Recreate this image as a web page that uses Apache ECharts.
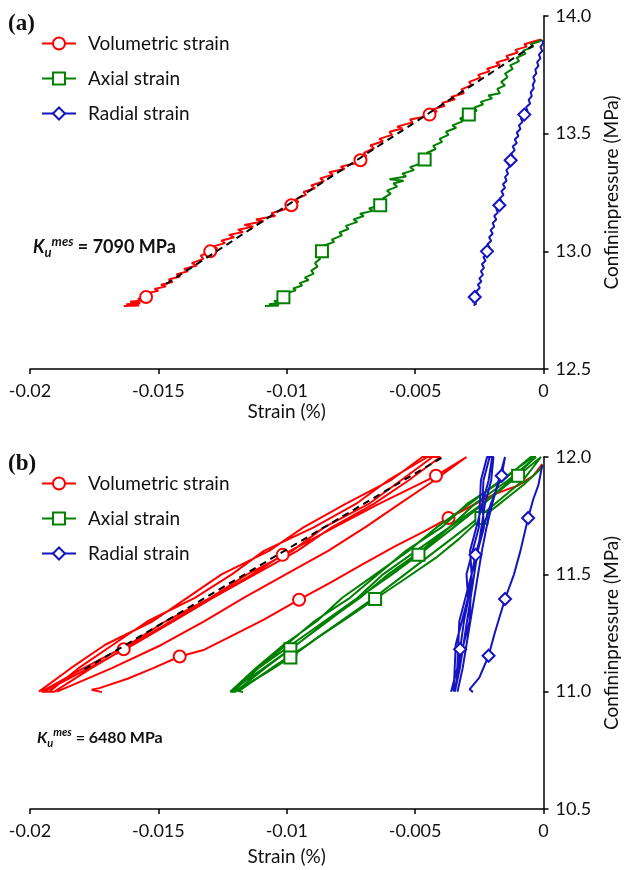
<!DOCTYPE html>
<html>
<head>
<meta charset="utf-8">
<script src="https://cdn.jsdelivr.net/npm/echarts@6/dist/echarts.min.js"></script>
<style>
  html, body { margin: 0; padding: 0; background: #fff; }
  #chart { width: 629px; height: 870px; }
</style>
</head>
<body>
<div id="chart"></div>
<script>
// ---------- Panel (a): single unloading run, strain (%) vs confining pressure (MPa) ----------
const volA = [
  [-0.01635,12.768],[-0.01575,12.770],[-0.01625,12.775],[-0.01570,12.779],[-0.01610,12.786],
  [-0.01560,12.791],[-0.01580,12.798],[-0.01548,12.806],[-0.01525,12.815],[-0.01545,12.822],
  [-0.01500,12.832],[-0.01515,12.840],[-0.01470,12.851],[-0.01490,12.858],[-0.01445,12.870],
  [-0.01460,12.880],[-0.01415,12.893],[-0.01430,12.902],[-0.01385,12.915],[-0.01400,12.925],
  [-0.01350,12.940],[-0.01370,12.950],[-0.01325,12.968],[-0.01335,12.982],[-0.01298,13.000],
  [-0.01270,13.012],[-0.01290,13.020],[-0.01240,13.035],[-0.01255,13.045],[-0.01205,13.060],
  [-0.01225,13.070],[-0.01170,13.082],[-0.01190,13.092],[-0.01130,13.105],[-0.01165,13.112],
  [-0.01090,13.128],[-0.01120,13.135],[-0.01045,13.150],[-0.01060,13.162],[-0.01010,13.178],
  [-0.00982,13.196],[-0.00955,13.210],[-0.00965,13.222],[-0.00925,13.240],[-0.00935,13.252],
  [-0.00890,13.268],[-0.00905,13.280],[-0.00855,13.298],[-0.00870,13.310],[-0.00820,13.326],
  [-0.00835,13.336],[-0.00775,13.350],[-0.00790,13.360],[-0.00740,13.372],[-0.00713,13.387],
  [-0.00690,13.405],[-0.00700,13.418],[-0.00660,13.438],[-0.00675,13.450],[-0.00625,13.468],
  [-0.00640,13.478],[-0.00590,13.495],[-0.00600,13.508],[-0.00550,13.522],[-0.00570,13.530],
  [-0.00510,13.548],[-0.00520,13.560],[-0.00475,13.570],[-0.00444,13.581],[-0.00415,13.595],
  [-0.00430,13.604],[-0.00385,13.618],[-0.00395,13.630],[-0.00345,13.646],[-0.00360,13.656],
  [-0.00310,13.672],[-0.00320,13.688],[-0.00280,13.706],[-0.00290,13.720],[-0.00245,13.738],
  [-0.00255,13.750],[-0.00210,13.765],[-0.00220,13.776],[-0.00170,13.792],[-0.00185,13.802],
  [-0.00135,13.818],[-0.00145,13.830],[-0.00100,13.845],[-0.00110,13.856],[-0.00065,13.870],
  [-0.00075,13.880],[-0.00035,13.893],[-0.00010,13.900]
];
const axialA = [
  [-0.01085,12.768],[-0.01030,12.770],[-0.01070,12.775],[-0.01020,12.780],[-0.01050,12.788],
  [-0.01005,12.795],[-0.01013,12.805],[-0.00990,12.815],[-0.01000,12.822],[-0.00965,12.834],
  [-0.00975,12.842],[-0.00940,12.855],[-0.00950,12.865],[-0.00915,12.878],[-0.00930,12.888],
  [-0.00895,12.905],[-0.00905,12.918],[-0.00880,12.935],[-0.00890,12.950],[-0.00870,12.968],
  [-0.00880,12.982],[-0.00863,13.000],[-0.00845,13.015],[-0.00855,13.025],[-0.00815,13.040],
  [-0.00825,13.050],[-0.00785,13.068],[-0.00795,13.080],[-0.00760,13.095],[-0.00770,13.108],
  [-0.00725,13.125],[-0.00740,13.135],[-0.00700,13.150],[-0.00715,13.160],[-0.00665,13.172],
  [-0.00680,13.182],[-0.00636,13.196],[-0.00615,13.210],[-0.00625,13.225],[-0.00595,13.245],
  [-0.00610,13.258],[-0.00570,13.275],[-0.00585,13.288],[-0.00545,13.300],[-0.00600,13.306],
  [-0.00535,13.318],[-0.00550,13.330],[-0.00505,13.345],[-0.00520,13.358],[-0.00480,13.372],
  [-0.00463,13.390],[-0.00445,13.405],[-0.00455,13.418],[-0.00420,13.435],[-0.00430,13.448],
  [-0.00395,13.465],[-0.00405,13.478],[-0.00370,13.495],[-0.00380,13.508],[-0.00340,13.525],
  [-0.00355,13.535],[-0.00315,13.552],[-0.00325,13.565],[-0.00291,13.581],[-0.00260,13.598],
  [-0.00270,13.610],[-0.00235,13.625],[-0.00245,13.635],[-0.00200,13.650],[-0.00215,13.662],
  [-0.00170,13.672],[-0.00180,13.690],[-0.00150,13.705],[-0.00165,13.720],[-0.00140,13.740],
  [-0.00150,13.755],[-0.00120,13.775],[-0.00130,13.790],[-0.00095,13.808],[-0.00105,13.822],
  [-0.00070,13.840],[-0.00080,13.852],[-0.00040,13.870],[-0.00050,13.880],[-0.00015,13.893],
  [-0.00005,13.900]
];
const radialA = [
  [-0.00272,12.770],[-0.00262,12.778],[-0.00275,12.786],[-0.00262,12.795],[-0.00268,12.806],
  [-0.00255,12.818],[-0.00262,12.830],[-0.00248,12.845],[-0.00256,12.858],[-0.00242,12.872],
  [-0.00250,12.885],[-0.00236,12.900],[-0.00244,12.915],[-0.00232,12.930],[-0.00240,12.945],
  [-0.00226,12.960],[-0.00234,12.975],[-0.00222,12.988],[-0.00220,13.000],[-0.00210,13.015],
  [-0.00218,13.030],[-0.00204,13.045],[-0.00212,13.060],[-0.00198,13.075],[-0.00206,13.090],
  [-0.00192,13.105],[-0.00198,13.120],[-0.00184,13.135],[-0.00192,13.150],[-0.00178,13.165],
  [-0.00184,13.180],[-0.00172,13.196],[-0.00162,13.210],[-0.00170,13.225],[-0.00156,13.240],
  [-0.00164,13.255],[-0.00150,13.270],[-0.00158,13.285],[-0.00144,13.300],[-0.00150,13.315],
  [-0.00138,13.330],[-0.00145,13.345],[-0.00132,13.360],[-0.00138,13.374],[-0.00128,13.387],
  [-0.00118,13.400],[-0.00126,13.415],[-0.00112,13.430],[-0.00120,13.445],[-0.00104,13.460],
  [-0.00112,13.475],[-0.00098,13.490],[-0.00104,13.505],[-0.00090,13.520],[-0.00096,13.535],
  [-0.00082,13.550],[-0.00088,13.565],[-0.00075,13.581],[-0.00062,13.596],[-0.00068,13.612],
  [-0.00052,13.628],[-0.00058,13.644],[-0.00046,13.660],[-0.00050,13.676],[-0.00038,13.692],
  [-0.00042,13.708],[-0.00034,13.724],[-0.00040,13.740],[-0.00028,13.756],[-0.00032,13.772],
  [-0.00020,13.788],[-0.00025,13.804],[-0.00012,13.820],[-0.00018,13.836],[-0.00005,13.852],
  [-0.00012,13.868],[-0.00002,13.884],[-0.00004,13.898]
];
// samples that carry a marker symbol
const volMarksA    = [[-0.01548,12.806],[-0.01298,13.000],[-0.00982,13.196],[-0.00713,13.387],[-0.00444,13.581]];
const axialMarksA  = [[-0.01013,12.805],[-0.00863,13.000],[-0.00636,13.196],[-0.00463,13.390],[-0.00291,13.581]];
const radialMarksA = [[-0.00268,12.806],[-0.00220,13.000],[-0.00172,13.196],[-0.00128,13.387],[-0.00075,13.581]];
// measured undrained bulk modulus and the strain span of its fitted line
const kA = 7090;               // MPa
const fitSpanA = [-0.0147, -0.0004];
const fitMidA = [-0.00755, 13.368];

// ---------- Panel (b): cyclic loading between 11 and 12 MPa ----------
const volCyclesB = [
  [-0.01965,11.0],[-0.01841,11.1],[-0.01707,11.2],[-0.01522,11.3],[-0.01388,11.4],[-0.01254,11.5],
  [-0.01069,11.6],[-0.00935,11.7],[-0.00771,11.8],[-0.00596,11.9],[-0.00472,12.0],
  [-0.00432,12.0],[-0.00556,11.9],[-0.00681,11.8],[-0.00855,11.7],[-0.00979,11.6],[-0.01154,11.5],
  [-0.01298,11.4],[-0.01472,11.3],[-0.01617,11.2],[-0.01791,11.1],[-0.01955,11.0],
  [-0.01925,11.0],[-0.01811,11.1],[-0.01677,11.2],[-0.01542,11.3],[-0.01358,11.4],[-0.01214,11.5],
  [-0.01089,11.6],[-0.00895,11.7],[-0.00731,11.8],[-0.00606,11.9],[-0.00452,12.0],
  [-0.00402,12.0],[-0.00526,11.9],[-0.00661,11.8],[-0.00825,11.7],[-0.00959,11.6],[-0.01124,11.5],
  [-0.01288,11.4],[-0.01442,11.3],[-0.01597,11.2],[-0.01771,11.1],[-0.01945,11.0],
  [-0.01905,11.0],[-0.01761,11.1],[-0.01635,11.181],[-0.01452,11.3],[-0.01288,11.4],[-0.01134,11.5],
  [-0.01016,11.583],[-0.00815,11.7],[-0.00641,11.8],[-0.00419,11.92],[-0.00300,12.0],
  [-0.00302,12.0],[-0.00426,11.9],[-0.00561,11.8],[-0.00695,11.7],[-0.00839,11.6],[-0.01004,11.5],
  [-0.01168,11.4],[-0.01322,11.3],[-0.01487,11.2],[-0.01681,11.1],[-0.01895,11.0]
];
const volFirstB = [
  [-0.01720,10.998],[-0.01760,11.008],[-0.01730,11.015],[-0.01620,11.055],[-0.01520,11.100],
  [-0.01417,11.150],[-0.01321,11.179],[-0.01220,11.235],[-0.01091,11.306],[-0.00952,11.392],
  [-0.00830,11.465],[-0.00707,11.541],[-0.00579,11.619],[-0.00470,11.680],[-0.00370,11.740],
  [-0.00259,11.804],[-0.00195,11.840],[-0.00100,11.878],[-0.00040,11.920],[-0.00005,11.970]
];
const axialCyclesB = [
  [-0.01220,11.0],[-0.01121,11.1],[-0.01012,11.2],[-0.00883,11.3],[-0.00784,11.4],[-0.00655,11.5],
  [-0.00526,11.6],[-0.00417,11.7],[-0.00288,11.8],[-0.00169,11.9],[-0.00040,12.0],
  [-0.00030,12.0],[-0.00139,11.9],[-0.00268,11.8],[-0.00367,11.7],[-0.00496,11.6],[-0.00625,11.5],
  [-0.00724,11.4],[-0.00853,11.3],[-0.00982,11.2],[-0.01111,11.1],[-0.01210,11.0],
  [-0.01215,11.0],[-0.01111,11.1],[-0.01002,11.2],[-0.00893,11.3],[-0.00754,11.4],[-0.00645,11.5],
  [-0.00536,11.6],[-0.00397,11.7],[-0.00298,11.8],[-0.00159,11.9],[-0.00050,12.0],
  [-0.00030,12.0],[-0.00129,11.9],[-0.00238,11.8],[-0.00367,11.7],[-0.00476,11.6],[-0.00605,11.5],
  [-0.00714,11.4],[-0.00843,11.3],[-0.00962,11.2],[-0.01091,11.1],[-0.01220,11.0],
  [-0.01200,11.0],[-0.01085,11.1],[-0.00986,11.181],[-0.00840,11.3],[-0.00720,11.4],[-0.00590,11.5],
  [-0.00487,11.583],[-0.00350,11.7],[-0.00235,11.8],[-0.00099,11.92],[-0.00010,12.0],
  [-0.00005,12.0],[-0.00080,11.9],[-0.00190,11.8],[-0.00300,11.7],[-0.00420,11.6],[-0.00540,11.5],
  [-0.00660,11.4],[-0.00790,11.3],[-0.00920,11.2],[-0.01060,11.1],[-0.01190,11.0]
];
const axialFirstB = [
  [-0.01170,10.998],[-0.01205,11.008],[-0.01180,11.015],[-0.01080,11.080],[-0.00986,11.146],
  [-0.00880,11.230],[-0.00770,11.310],[-0.00656,11.395],[-0.00540,11.480],[-0.00420,11.570],
  [-0.00330,11.650],[-0.00242,11.740],[-0.00160,11.810],[-0.00080,11.880],[-0.00020,11.940],
  [-0.00002,11.965]
];
const radialCyclesB = [
  [-0.00350,11.0],[-0.00346,11.1],[-0.00342,11.2],[-0.00318,11.3],[-0.00294,11.4],[-0.00300,11.5],
  [-0.00276,11.6],[-0.00252,11.7],[-0.00248,11.8],[-0.00244,11.9],[-0.00220,12.0],
  [-0.00200,12.0],[-0.00214,11.9],[-0.00238,11.8],[-0.00232,11.7],[-0.00256,11.6],[-0.00280,11.5],
  [-0.00284,11.4],[-0.00288,11.3],[-0.00312,11.2],[-0.00336,11.1],[-0.00360,11.0],
  [-0.00365,11.0],[-0.00336,11.1],[-0.00332,11.2],[-0.00328,11.3],[-0.00304,11.4],[-0.00280,11.5],
  [-0.00286,11.6],[-0.00262,11.7],[-0.00238,11.8],[-0.00234,11.9],[-0.00210,12.0],
  [-0.00195,12.0],[-0.00204,11.9],[-0.00228,11.8],[-0.00242,11.7],[-0.00256,11.6],[-0.00270,11.5],
  [-0.00284,11.4],[-0.00298,11.3],[-0.00312,11.2],[-0.00326,11.1],[-0.00345,11.0],
  [-0.00340,11.0],[-0.00332,11.1],[-0.00325,11.181],[-0.00310,11.3],[-0.00292,11.4],[-0.00280,11.5],
  [-0.00265,11.583],[-0.00235,11.7],[-0.00205,11.8],[-0.00163,11.92],[-0.00150,12.0],
  [-0.00148,12.0],[-0.00175,11.9],[-0.00200,11.8],[-0.00222,11.7],[-0.00240,11.6],[-0.00255,11.5],
  [-0.00270,11.4],[-0.00285,11.3],[-0.00300,11.2],[-0.00315,11.1],[-0.00335,11.0]
];
const radialFirstB = [
  [-0.00275,10.998],[-0.00288,11.010],[-0.00250,11.060],[-0.00214,11.153],[-0.00190,11.250],
  [-0.00150,11.395],[-0.00115,11.500],[-0.00090,11.600],[-0.00060,11.740],[-0.00040,11.820],
  [-0.00020,11.880],[-0.00005,11.965]
];
const volMarksB    = [[-0.01635,11.181],[-0.01016,11.583],[-0.00419,11.92],[-0.01417,11.150],[-0.00952,11.392],[-0.00370,11.740]];
const axialMarksB  = [[-0.00986,11.181],[-0.00487,11.583],[-0.00099,11.92],[-0.00986,11.146],[-0.00656,11.395],[-0.00242,11.740]];
const radialMarksB = [[-0.00325,11.181],[-0.00265,11.583],[-0.00163,11.92],[-0.00214,11.153],[-0.00150,11.395],[-0.00060,11.740]];
const kB = 6480;               // MPa
const fitSpanB = [-0.01788, -0.00374];
const fitMidB = [-0.01081, 11.5535];

// ---------- axis ticks ----------
const xTicks = ['-0.02', '-0.015', '-0.01', '-0.005', '0'];
const yTicksA = ['12.5', '13.0', '13.5', '14.0'];
const yTicksB = ['10.5', '11.0', '11.5', '12.0'];

const seriesNames = ['Volumetric strain', 'Axial strain', 'Radial strain'];
const colors = { vol: '#ff0000', axial: '#008000', radial: '#1414c0' };
const FONT = 'Lato, "Open Sans", sans-serif';

// points listed in the marker table keep the series symbol, all others draw none
function withMarkers(path, marks) {
  const key = p => p[0] + ',' + p[1];
  const set = new Set(marks.map(key));
  return path.map(p => set.has(key(p)) ? p.slice() : { value: p, symbol: 'none' });
}

function curve(name, panel, path, marks, color, symbol, z) {
  return {
    name, type: 'line', xAxisIndex: panel, yAxisIndex: panel,
    data: withMarkers(path, marks),
    symbol, symbolSize: 12, showSymbol: true, showAllSymbol: true,
    lineStyle: { color, width: 2 },
    itemStyle: { color, borderColor: color, borderWidth: 2 },
    emphasis: { disabled: true },
    z, animation: false
  };
}

// straight line through the mid point with slope K (MPa), strain given in %
function fitLine(k, span, mid, panel) {
  const pts = span.map(x => [x, mid[1] + k * (x - mid[0]) / 100]);
  return {
    name: 'fit', type: 'line', xAxisIndex: panel, yAxisIndex: panel, data: pts,
    symbol: 'none', lineStyle: { color: '#000', width: 2, type: [7, 5] },
    emphasis: { disabled: true }, z: 10, animation: false
  };
}

function xAxis(panel, nameGap) {
  return {
    gridIndex: panel, type: 'value', min: -0.02, max: 0, interval: 0.005,
    name: 'Strain (%)', nameLocation: 'middle', nameGap,
    nameTextStyle: { fontSize: 19, color: '#111', fontFamily: FONT },
    axisLine: { onZero: false, lineStyle: { color: '#000', width: 1.5 } },
    axisTick: { show: true, inside: false, length: 5, lineStyle: { color: '#000', width: 1.5 } },
    axisLabel: { margin: 13, fontSize: 18, color: '#111', fontFamily: FONT,
      formatter: v => xTicks[Math.round((v + 0.02) / 0.005)] },
    splitLine: { show: false }
  };
}

function yAxis(panel, min, max, ticks) {
  return {
    gridIndex: panel, type: 'value', position: 'right', min, max, interval: 0.5,
    name: 'Confininpressure (MPa)', nameLocation: 'middle', nameGap: 52, nameRotate: 90,
    nameTextStyle: { fontSize: 19, color: '#111', fontFamily: FONT },
    axisLine: { onZero: false, lineStyle: { color: '#000', width: 1.5 } },
    axisTick: { show: true, inside: false, length: 5, lineStyle: { color: '#000', width: 1.5 } },
    axisLabel: { margin: 12, fontSize: 18, color: '#111', fontFamily: FONT,
      formatter: v => ticks[Math.round((v - min) / 0.5)] },
    splitLine: { show: false }
  };
}

function legend(top) {
  return {
    orient: 'vertical', left: 41, top, padding: 0, data: seriesNames,
    itemWidth: 34, itemHeight: 15, itemGap: 16,
    selectedMode: false,
    textStyle: { fontSize: 19, color: '#111', fontFamily: FONT, padding: [0, 0, 0, 7] }
  };
}

function kLabel(left, top, k, size) {
  return {
    type: 'text', left, top, silent: true,
    style: {
      text: '{k|K}{u|u}{m|mes}{v| = ' + k + ' MPa}',
      rich: {
        k: { fontFamily: FONT, fontSize: size, fontWeight: 'bold', fontStyle: 'italic', lineHeight: size + 6, fill: '#111' },
        u: { fontFamily: FONT, fontSize: size - 5, fontWeight: 'bold', fontStyle: 'italic', lineHeight: size - 5, verticalAlign: 'bottom', fill: '#111' },
        m: { fontFamily: FONT, fontSize: size - 5, fontWeight: 'bold', fontStyle: 'italic', lineHeight: size - 6, verticalAlign: 'top', fill: '#111' },
        v: { fontFamily: FONT, fontSize: size, fontWeight: 'bold', lineHeight: size + 6, fill: '#111' }
      }
    }
  };
}

const chart = echarts.init(document.getElementById('chart'), null, { renderer: 'canvas' });
chart.setOption({
  backgroundColor: '#fff',
  animation: false,
  grid: [
    { left: 30, right: 78, top: 16, bottom: 501 },
    { left: 30, right: 78, top: 457, bottom: 61 }
  ],
  xAxis: [xAxis(0, 33), xAxis(1, 38)],
  yAxis: [yAxis(0, 12.5, 14.0, yTicksA), yAxis(1, 10.5, 12.0, yTicksB)],
  legend: [legend(34), legend(474)],
  graphic: [
    { type: 'text', left: 8, top: 13, silent: true,
      style: { text: '(a)', font: 'bold 23px "Liberation Serif", serif', fill: '#111' } },
    { type: 'text', left: 8, top: 453, silent: true,
      style: { text: '(b)', font: 'bold 23px "Liberation Serif", serif', fill: '#111' } },
    kLabel(33, 235, kA, 18),
    kLabel(37, 727, kB, 16)
  ],
  series: [
    curve(seriesNames[0], 0, volA, volMarksA, colors.vol, 'emptyCircle', 3),
    curve(seriesNames[1], 0, axialA, axialMarksA, colors.axial, 'emptyRect', 3),
    curve(seriesNames[2], 0, radialA, radialMarksA, colors.radial, 'emptyDiamond', 3),
    fitLine(kA, fitSpanA, fitMidA, 0),
    curve(seriesNames[0], 1, volCyclesB, volMarksB, colors.vol, 'emptyCircle', 3),
    curve(seriesNames[0], 1, volFirstB, volMarksB, colors.vol, 'emptyCircle', 3),
    curve(seriesNames[1], 1, axialCyclesB, axialMarksB, colors.axial, 'emptyRect', 4),
    curve(seriesNames[1], 1, axialFirstB, axialMarksB, colors.axial, 'emptyRect', 4),
    curve(seriesNames[2], 1, radialCyclesB, radialMarksB, colors.radial, 'emptyDiamond', 5),
    curve(seriesNames[2], 1, radialFirstB, radialMarksB, colors.radial, 'emptyDiamond', 5),
    fitLine(kB, fitSpanB, fitMidB, 1)
  ]
});
</script>
</body>
</html>
